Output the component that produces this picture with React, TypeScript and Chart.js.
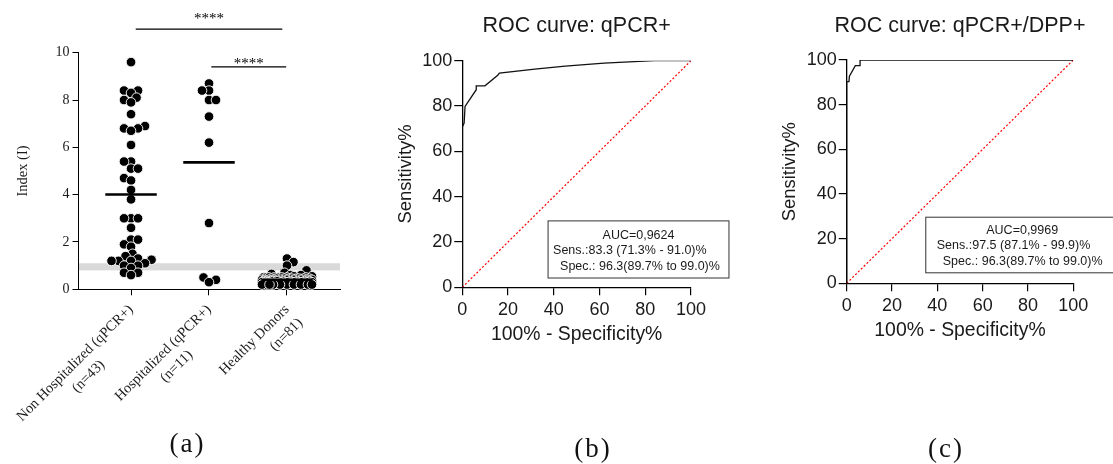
import React, { useEffect, useRef } from 'react';
import { Chart, registerables } from 'chart.js';

Chart.register(...registerables);

const SERIF = '"Liberation Serif", "Times New Roman", serif';
const SANS = '"Liberation Sans", Arial, sans-serif';
const TEXT = '#1a1a1a';

// ---------------- Panel (a) data ----------------
const categoryLines = [
  ['Non Hospitalized (qPCR+)', '(n=43)'],
  ['Hospitalized (qPCR+)', '(n=11)'],
  ['Healthy Donors', '(n=81)'],
];
const labelAlign = ['center', 'center', 'right'];

const nonHospitalized = [
  9.6, 8.4, 8.4, 8.3, 8.1, 8.0, 7.9, 7.4, 6.9, 6.8, 6.8, 6.7, 6.1, 5.4, 5.4, 5.1, 5.1,
  4.7, 4.6, 4.2, 3.8, 3.0, 3.0, 3.0, 2.6, 2.1, 2.1, 1.9, 1.8, 1.5, 1.4, 1.3, 1.25,
  1.2, 1.2, 1.2, 1.1, 1.0, 1.0, 0.9, 0.7, 0.7, 0.6,
];
const hospitalized = [8.7, 8.4, 8.4, 8.0, 8.0, 7.3, 6.2, 2.8, 0.5, 0.4, 0.3];
const healthyDonors = [
  1.3, 1.15, 1.0, 0.8, 0.7, 0.65, 0.6, 0.6, 0.55, 0.55,
  0.5, 0.5, 0.5, 0.5, 0.5, 0.5, 0.5, 0.5,
  0.45, 0.45, 0.45, 0.45, 0.45, 0.45, 0.45, 0.45, 0.45,
  0.4, 0.4, 0.4, 0.4, 0.4, 0.4, 0.4, 0.4, 0.4, 0.4,
  0.35, 0.35, 0.35, 0.35, 0.35, 0.35, 0.35, 0.35, 0.35, 0.35, 0.35,
  0.3, 0.3, 0.3, 0.3, 0.3, 0.3, 0.3, 0.3, 0.3, 0.3, 0.3, 0.3,
  0.25, 0.25, 0.25, 0.25, 0.25, 0.25, 0.25, 0.25, 0.25, 0.25, 0.25,
  0.2, 0.2, 0.2, 0.2, 0.2, 0.2, 0.2, 0.2, 0.2, 0.2,
];
const groups = [nonHospitalized, hospitalized, healthyDonors];
const cutoffBand = [0.8, 1.1];
const indexTicks = { min: 0, max: 10, step: 2 };
// significance bars: [from, to, y value, label]
const sigFrom = [1.06, 2.03];
const sigTo = [2.94, 2.99];
const sigY = [11.0, 9.4];
const sigLabel = ['****', '****'];

// ---------------- ROC data ----------------
const rocQpcrFpr = [0, 0, 0.8, 1.2, 6.1, 6.1, 9.9, 15.5, 16.2, 31.7, 45, 62, 84, 100];
const rocQpcrTpr = [0, 70.8, 72.5, 79.8, 87.2, 88.9, 88.9, 93.6, 94.5, 96.3, 97.6, 98.9, 100, 100];
const rocDppFpr = [0, 0, 1.0, 1.2, 3.8, 5.9, 5.9, 100];
const rocDppTpr = [0, 90.3, 90.3, 92.8, 97.5, 97.5, 100, 100];
const chanceFpr = [0, 100];
const chanceTpr = [0, 100];
const rocTicks = { min: 0, max: 100, step: 20 };

const rocQpcrText = ['AUC=0,9624', 'Sens.:83.3 (71.3% - 91.0)%', 'Spec.: 96.3(89.7% to 99.0)%'];
const rocDppText = ['AUC=0,9969', 'Sens.:97.5 (87.1% - 99.9)%', 'Spec.: 96.3(89.7% to 99.0)%'];

// ---------------- helpers ----------------
const mean = (a: number[]) => a.reduce((s, v) => s + v, 0) / a.length;

const swarmPlugin = {
  id: 'swarm',
  afterDatasetsUpdate(chart: any) {
    chart.data.datasets.forEach((ds: any, di: number) => {
      if (!ds.swarm) return;
      const meta = chart.getDatasetMeta(di);
      const pts = meta.data as any[];
      if (!pts.length) return;
      const d = ds.swarm.distance;
      const W = ds.swarm.halfWidth;
      const cx = pts[0].x;
      const order = pts.map((_: any, i: number) => i).sort((a: number, b: number) => pts[b].y - pts[a].y);
      const placed: { x: number; y: number }[] = [];
      let balance = 0;
      for (const i of order) {
        const y = pts[i].y;
        const minDist = (o: number) => {
          let m = Infinity;
          for (const p of placed) {
            const dd = Math.hypot(p.x - o, p.y - y);
            if (dd < m) m = dd;
          }
          return m;
        };
        let chosen: number | null = null;
        for (let k = 0; k <= W && chosen === null; k += 0.5) {
          const sides = k === 0 ? [0] : balance > 0 ? [-k, k] : [k, -k];
          for (const o of sides) {
            if (minDist(o) >= d) { chosen = o; break; }
          }
        }
        if (chosen === null) {
          let best = 0, bestD = -1;
          for (let o = -W; o <= W; o += 0.5) {
            const m = minDist(o);
            if (m > bestD) { bestD = m; best = o; }
          }
          chosen = best;
        }
        balance += Math.sign(chosen);
        placed.push({ x: chosen, y });
        pts[i].x = cx + chosen;
      }
    });
  },
};

function letterPlugin(letter: string, cx: number, baseline: number) {
  return {
    id: 'letter' + letter,
    afterDraw(chart: any) {
      const ctx = chart.ctx;
      ctx.save();
      ctx.font = `27px ${SERIF}`;
      try { (ctx as any).letterSpacing = '2px'; } catch (e) { /* ignore */ }
      ctx.fillStyle = '#111';
      ctx.textAlign = 'center';
      ctx.textBaseline = 'alphabetic';
      ctx.fillText(letter, cx, baseline);
      ctx.restore();
    },
  };
}

const panelAPlugin = {
  id: 'panelA',
  beforeDatasetsDraw(chart: any) {
    const { ctx, chartArea: ca, scales } = chart;
    const y = scales.y;
    const yt = y.getPixelForValue(cutoffBand[1]);
    const yb = y.getPixelForValue(cutoffBand[0]);
    ctx.save();
    ctx.fillStyle = '#d9d9d9';
    ctx.fillRect(ca.left + 1, yt, ca.right - ca.left - 1, yb - yt);
    ctx.restore();
  },
  afterDraw(chart: any) {
    const { ctx, chartArea: ca, scales } = chart;
    const x = scales.x, y = scales.y;
    ctx.save();
    // significance bars
    ctx.strokeStyle = '#000';
    ctx.lineWidth = 1.3;
    ctx.fillStyle = '#000';
    ctx.font = `15px ${SERIF}`;
    ctx.textAlign = 'center';
    ctx.textBaseline = 'alphabetic';
    const starGap = [14, 7];
    sigY.forEach((v, i) => {
      const py = y.getPixelForValue(v);
      const x0 = x.getPixelForValue(sigFrom[i]);
      const x1 = x.getPixelForValue(sigTo[i]);
      ctx.beginPath();
      ctx.moveTo(x0, py);
      ctx.lineTo(x1, py);
      ctx.stroke();
      ctx.fillText(sigLabel[i], (x0 + x1) / 2, py - starGap[i] + 8);
    });
    // rotated category labels
    ctx.font = `14.5px ${SERIF}`;
    ctx.fillStyle = TEXT;
    categoryLines.forEach((lines, i) => {
      const px = x.getPixelForValue(i + 1);
      ctx.save();
      ctx.translate(px, ca.bottom + 18);
      ctx.rotate(-Math.PI / 4);
      ctx.textBaseline = 'middle';
      ctx.textAlign = 'right';
      ctx.fillText(lines[0], 0, 0);
      const w = ctx.measureText(lines[0]).width;
      if (labelAlign[i] === 'center') {
        ctx.textAlign = 'center';
        ctx.fillText(lines[1], -w / 2, 19);
      } else {
        ctx.textAlign = 'right';
        ctx.fillText(lines[1], 0, 19);
      }
      ctx.restore();
    });
    ctx.restore();
  },
};

function panelAConfig(): any {
  const scatterSets = groups.map((g, gi) => ({
    data: g.map((v) => ({ x: gi + 1, y: v })),
    showLine: false,
    pointRadius: 4.8,
    backgroundColor: '#000',
    borderColor: '#fff',
    borderWidth: 0.9,
    pointBackgroundColor: '#000',
    pointBorderColor: '#fff',
    pointBorderWidth: 0.9,
    clip: false,
    order: 1,
    swarm: { distance: 7, halfWidth: gi === 2 ? 25 : 24 },
  }));
  const meanHalf = 0.33;
  const meanSets = groups.map((g, gi) => ({
    data: [
      { x: gi + 1 - meanHalf, y: mean(g) },
      { x: gi + 1 + meanHalf, y: mean(g) },
    ],
    showLine: true,
    borderColor: '#000',
    borderWidth: 2.6,
    pointRadius: 0,
    clip: false,
    order: 0,
  }));
  return {
    type: 'scatter',
    data: { datasets: [...meanSets, ...scatterSets] },
    options: {
      responsive: false,
      animation: false,
      events: [],
      layout: { padding: { left: 0, top: 52.7, right: 32, bottom: 168.7 } },
      plugins: { legend: { display: false }, tooltip: { enabled: false }, title: { display: false } },
      scales: {
        x: {
          type: 'linear',
          min: 0.32,
          max: 3.68,
          afterBuildTicks: (s: any) => {
            s.ticks = categoryLines.map((_, i) => ({ value: i + 1 }));
          },
          ticks: { display: false },
          grid: { drawOnChartArea: false, drawTicks: true, tickLength: 6, color: '#000', lineWidth: 1 },
          border: { display: true, color: '#000', width: 1 },
          afterFit: (s: any) => { s.height = 6; },
        },
        y: {
          min: indexTicks.min,
          max: indexTicks.max,
          ticks: { stepSize: indexTicks.step, font: { family: SERIF, size: 14 }, color: TEXT, padding: 3 },
          grid: { drawOnChartArea: false, drawTicks: true, tickLength: 5.5, color: '#000', lineWidth: 1 },
          border: { display: true, color: '#000', width: 1 },
          title: { display: true, text: 'Index (I)', font: { family: SERIF, size: 14.5 }, color: TEXT, padding: { top: 14.7, bottom: 0 } },
          afterFit: (s: any) => { s.width = 78; },
        },
      },
    },
    plugins: [swarmPlugin, panelAPlugin, letterPlugin('(a)', 187.5, 452)],
  };
}

interface RocPanel {
  title: string;
  titleBaseline: number;
  fpr: number[];
  tpr: number[];
  text: string[];
  box: number[]; // x0, x1, y0, y1 in data units
  textOffsets: number[];
  lineYs: number[];
  padding: { left: number; top: number; right: number; bottom: number };
  yWidth: number;
  xTitlePad: number;
  yTitlePad: number;
  letter: string;
  letterX: number;
}

function rocDecor(p: RocPanel) {
  return {
    id: 'rocDecor',
    afterDraw(chart: any) {
      const { ctx, chartArea: ca, scales } = chart;
      const x = scales.x, y = scales.y;
      ctx.save();
      ctx.fillStyle = TEXT;
      ctx.font = `21.5px ${SANS}`;
      ctx.textAlign = 'center';
      ctx.textBaseline = 'alphabetic';
      ctx.fillText(p.title, (ca.left + ca.right) / 2, p.titleBaseline);
      const l = x.getPixelForValue(p.box[0]);
      const r = x.getPixelForValue(p.box[1]);
      const t = y.getPixelForValue(p.box[3]);
      const b = y.getPixelForValue(p.box[2]);
      ctx.fillStyle = '#fff';
      ctx.fillRect(l, t, r - l, b - t);
      ctx.strokeStyle = '#333';
      ctx.lineWidth = 1;
      ctx.strokeRect(l, t, r - l, b - t);
      ctx.fillStyle = TEXT;
      ctx.font = `12.5px ${SANS}`;
      ctx.textBaseline = 'middle';
      ctx.textAlign = 'center';
      ctx.fillText(p.text[0], (l + r) / 2, t + p.lineYs[0]);
      ctx.textAlign = 'left';
      ctx.fillText(p.text[1], l + p.textOffsets[1], t + p.lineYs[1]);
      ctx.fillText(p.text[2], l + p.textOffsets[2], t + p.lineYs[2]);
      ctx.restore();
    },
  };
}

function rocConfig(p: RocPanel): any {
  const axisCommon = {
    type: 'linear',
    min: rocTicks.min,
    max: rocTicks.max,
    grid: { drawOnChartArea: false, drawTicks: true, tickLength: 8, color: '#000', lineWidth: 1.2 },
    border: { display: true, color: '#000', width: 1.3 },
  };
  return {
    type: 'scatter',
    data: {
      datasets: [
        {
          data: p.fpr.map((v, i) => ({ x: v, y: p.tpr[i] })),
          showLine: true,
          borderColor: '#111',
          borderWidth: 1.3,
          pointRadius: 0,
          tension: 0,
          order: 0,
        },
        {
          data: chanceFpr.map((v, i) => ({ x: v, y: chanceTpr[i] })),
          showLine: true,
          borderColor: '#ff0000',
          borderWidth: 1.2,
          borderDash: [2, 2],
          pointRadius: 0,
          tension: 0,
          order: 1,
        },
      ],
    },
    options: {
      responsive: false,
      animation: false,
      events: [],
      layout: { padding: p.padding },
      plugins: { legend: { display: false }, tooltip: { enabled: false }, title: { display: false } },
      scales: {
        x: {
          ...axisCommon,
          position: 'bottom',
          ticks: { stepSize: rocTicks.step, font: { family: SANS, size: 18 }, color: TEXT, padding: 4, maxRotation: 0 },
          title: { display: true, text: '100% - Specificity%', font: { family: SANS, size: 19.4 }, color: TEXT, padding: { top: 0, bottom: p.xTitlePad } },
          afterFit: (s: any) => { s.height = 60; },
        },
        y: {
          ...axisCommon,
          position: 'left',
          ticks: { stepSize: rocTicks.step, font: { family: SANS, size: 18 }, color: TEXT, padding: 2 },
          title: { display: true, text: 'Sensitivity%', font: { family: SANS, size: 18.4 }, color: TEXT, padding: { top: p.yTitlePad, bottom: 0 } },
          afterFit: (s: any) => { s.width = p.yWidth; },
        },
      },
    },
    plugins: [rocDecor(p), letterPlugin(p.letter, p.letterX, 457)],
  };
}

const panelB: RocPanel = {
  title: 'ROC curve: qPCR+',
  titleBaseline: 32.3,
  fpr: rocQpcrFpr,
  tpr: rocQpcrTpr,
  text: rocQpcrText,
  box: [37.5, 116.6, 4.1, 29.3],
  textOffsets: [0, 5, 12],
  lineYs: [14.8, 29.8, 45.5],
  padding: { left: 0, top: 60.7, right: 53, bottom: 116.7 },
  yWidth: 90.3,
  xTitlePad: 1.2,
  yTitlePad: 23,
  letter: '(b)',
  letterX: 221,
};

const panelC: RocPanel = {
  title: 'ROC curve: qPCR+/DPP+',
  titleBaseline: 31.7,
  fpr: rocDppFpr,
  tpr: rocDppTpr,
  text: rocDppText,
  box: [34.9, 120, 4.7, 29.6],
  textOffsets: [0, 11, 17],
  lineYs: [12.9, 28.2, 43.9],
  padding: { left: 0, top: 60, right: 39.7, bottom: 120.7 },
  yWidth: 102.7,
  xTitlePad: 0.7,
  yTitlePad: 35,
  letter: '(c)',
  letterX: 202,
};

function ChartCanvas({ left, width, height, makeConfig }: { left: number; width: number; height: number; makeConfig: () => any }) {
  const ref = useRef<HTMLCanvasElement>(null);
  useEffect(() => {
    if (!ref.current) return;
    const chart = new Chart(ref.current, makeConfig());
    return () => chart.destroy();
  }, []);
  return (
    <canvas
      ref={ref}
      width={width}
      height={height}
      style={{ position: 'absolute', left, top: 0, width, height, display: 'block' }}
    />
  );
}

export default function App() {
  return (
    <div style={{ position: 'absolute', left: 0, top: 0, width: 1113, height: 464, background: '#fff', overflow: 'hidden' }}>
      <ChartCanvas left={0} width={372} height={464} makeConfig={panelAConfig} />
      <ChartCanvas left={372} width={372} height={464} makeConfig={() => rocConfig(panelB)} />
      <ChartCanvas left={744} width={369} height={464} makeConfig={() => rocConfig(panelC)} />
    </div>
  );
}
